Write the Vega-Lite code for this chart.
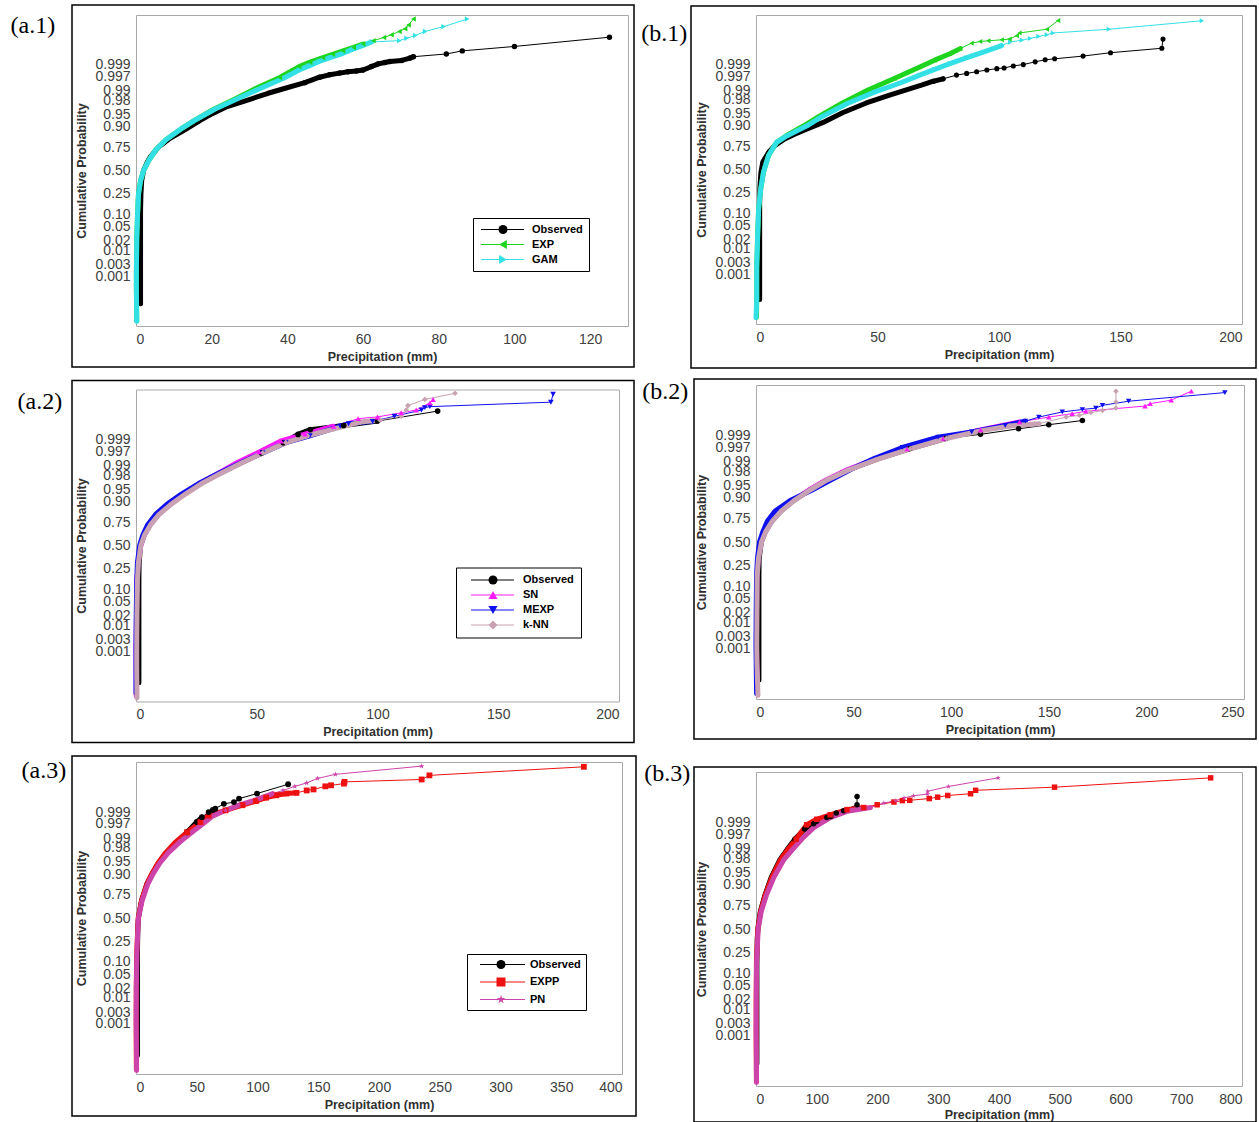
{
"$schema": "https://vega.github.io/schema/vega-lite/v6.json",
"background": "white",
"padding": {"left": 10, "top": 3, "right": 0, "bottom": 0},
"datasets": {
"a1": [
{"s":"Observed","x":1.2,"z":-3.9},{"s":"Observed","x":1.2,"z":-3.0},{"s":"Observed","x":1.2,"z":-2.0},{"s":"Observed","x":1.2,"z":-1.2},{"s":"Observed","x":1.3,"z":-0.7},{"s":"Observed","x":1.5,"z":-0.3},{"s":"Observed","x":2.0,"z":0.0},{"s":"Observed","x":3.0,"z":0.25},{"s":"Observed","x":3.8,"z":0.4},{"s":"Observed","x":6.0,"z":0.69},{"s":"Observed","x":9.0,"z":0.94},{"s":"Observed","x":12.8,"z":1.18},{"s":"Observed","x":17.0,"z":1.47},{"s":"Observed","x":20.3,"z":1.67},{"s":"Observed","x":24.1,"z":1.87},{"s":"Observed","x":29.5,"z":2.06},{"s":"Observed","x":34.9,"z":2.26},{"s":"Observed","x":39.2,"z":2.4},{"s":"Observed","x":44.6,"z":2.57},{"s":"Observed","x":48.5,"z":2.73},{"s":"Observed","x":51.1,"z":2.8},{"s":"Observed","x":53.8,"z":2.85},{"s":"Observed","x":56.0,"z":2.89},{"s":"Observed","x":58.2,"z":2.91},{"s":"Observed","x":60.0,"z":2.94},{"s":"Observed","x":62.2,"z":3.04},{"s":"Observed","x":64.0,"z":3.12},{"s":"Observed","x":65.8,"z":3.16},{"s":"Observed","x":67.1,"z":3.19},{"s":"Observed","x":70.2,"z":3.22},{"s":"Observed","x":72.4,"z":3.29},{"s":"Observed","x":73.3,"z":3.33},{"s":"Observed","x":82.0,"z":3.41},{"s":"Observed","x":86.2,"z":3.5},{"s":"Observed","x":100.0,"z":3.63},{"s":"Observed","x":125.1,"z":3.9},
{"s":"EXP","x":0.2,"z":-4.4},{"s":"EXP","x":0.1,"z":-3.5},{"s":"EXP","x":0.1,"z":-3.0},{"s":"EXP","x":0.2,"z":-2.0},{"s":"EXP","x":0.4,"z":-1.3},{"s":"EXP","x":0.65,"z":-0.7},{"s":"EXP","x":1.2,"z":-0.3},{"s":"EXP","x":2.0,"z":0.0},{"s":"EXP","x":3.4,"z":0.3},{"s":"EXP","x":5.2,"z":0.6},{"s":"EXP","x":7.9,"z":0.9},{"s":"EXP","x":11.7,"z":1.2},{"s":"EXP","x":16.0,"z":1.5},{"s":"EXP","x":20.7,"z":1.8},{"s":"EXP","x":26.3,"z":2.1},{"s":"EXP","x":32.0,"z":2.42},{"s":"EXP","x":38.0,"z":2.72},{"s":"EXP","x":43.1,"z":3.04},{"s":"EXP","x":46.0,"z":3.17},{"s":"EXP","x":49.4,"z":3.3},{"s":"EXP","x":52.0,"z":3.4},{"s":"EXP","x":54.7,"z":3.5},{"s":"EXP","x":57.5,"z":3.6},{"s":"EXP","x":60.0,"z":3.7},{"s":"EXP","x":62.7,"z":3.8},{"s":"EXP","x":65.5,"z":3.89},{"s":"EXP","x":67.5,"z":3.97},{"s":"EXP","x":69.6,"z":4.07},{"s":"EXP","x":71.1,"z":4.15},{"s":"EXP","x":72.0,"z":4.26},{"s":"EXP","x":73.3,"z":4.43},
{"s":"GAM","x":0.2,"z":-4.42},{"s":"GAM","x":0.1,"z":-3.5},{"s":"GAM","x":0.1,"z":-3.0},{"s":"GAM","x":0.2,"z":-2.0},{"s":"GAM","x":0.4,"z":-1.3},{"s":"GAM","x":0.65,"z":-0.7},{"s":"GAM","x":1.2,"z":-0.3},{"s":"GAM","x":2.0,"z":0.0},{"s":"GAM","x":3.4,"z":0.3},{"s":"GAM","x":5.2,"z":0.6},{"s":"GAM","x":7.9,"z":0.9},{"s":"GAM","x":11.7,"z":1.2},{"s":"GAM","x":16.0,"z":1.5},{"s":"GAM","x":20.9,"z":1.8},{"s":"GAM","x":26.8,"z":2.1},{"s":"GAM","x":32.8,"z":2.4},{"s":"GAM","x":39.0,"z":2.7},{"s":"GAM","x":43.1,"z":2.94},{"s":"GAM","x":45.7,"z":3.06},{"s":"GAM","x":48.4,"z":3.19},{"s":"GAM","x":51.5,"z":3.31},{"s":"GAM","x":54.7,"z":3.43},{"s":"GAM","x":57.3,"z":3.55},{"s":"GAM","x":60.0,"z":3.66},{"s":"GAM","x":62.2,"z":3.76},{"s":"GAM","x":69.6,"z":3.8},{"s":"GAM","x":71.5,"z":3.87},{"s":"GAM","x":73.8,"z":3.95},{"s":"GAM","x":76.4,"z":4.07},{"s":"GAM","x":81.3,"z":4.21},{"s":"GAM","x":87.5,"z":4.43}
],
"b1": [
{"s":"Observed","x":1.5,"z":-3.83},{"s":"Observed","x":1.5,"z":-3.0},{"s":"Observed","x":1.5,"z":-2.0},{"s":"Observed","x":1.5,"z":-1.0},{"s":"Observed","x":1.6,"z":-0.55},{"s":"Observed","x":2.0,"z":-0.1},{"s":"Observed","x":2.8,"z":0.22},{"s":"Observed","x":5.2,"z":0.51},{"s":"Observed","x":7.7,"z":0.7},{"s":"Observed","x":11.8,"z":0.9},{"s":"Observed","x":15.9,"z":1.04},{"s":"Observed","x":20.8,"z":1.19},{"s":"Observed","x":27.4,"z":1.38},{"s":"Observed","x":35.6,"z":1.67},{"s":"Observed","x":45.4,"z":1.96},{"s":"Observed","x":55.3,"z":2.2},{"s":"Observed","x":68.4,"z":2.49},{"s":"Observed","x":73.0,"z":2.6},{"s":"Observed","x":77.0,"z":2.67},{"s":"Observed","x":82.5,"z":2.78},{"s":"Observed","x":86.7,"z":2.83},{"s":"Observed","x":90.8,"z":2.88},{"s":"Observed","x":95.0,"z":2.93},{"s":"Observed","x":99.1,"z":2.97},{"s":"Observed","x":102.1,"z":2.99},{"s":"Observed","x":105.9,"z":3.05},{"s":"Observed","x":110.0,"z":3.09},{"s":"Observed","x":114.9,"z":3.17},{"s":"Observed","x":119.0,"z":3.23},{"s":"Observed","x":122.9,"z":3.26},{"s":"Observed","x":134.6,"z":3.34},{"s":"Observed","x":145.9,"z":3.44},{"s":"Observed","x":167.0,"z":3.57},{"s":"Observed","x":167.5,"z":3.84},
{"s":"EXP","x":0.2,"z":-4.36},{"s":"EXP","x":0.3,"z":-3.8},{"s":"EXP","x":0.3,"z":-2.9},{"s":"EXP","x":0.7,"z":-1.9},{"s":"EXP","x":1.1,"z":-1.13},{"s":"EXP","x":2.0,"z":-0.55},{"s":"EXP","x":3.1,"z":-0.07},{"s":"EXP","x":5.2,"z":0.42},{"s":"EXP","x":8.5,"z":0.8},{"s":"EXP","x":12.6,"z":1.0},{"s":"EXP","x":19.5,"z":1.28},{"s":"EXP","x":26.1,"z":1.57},{"s":"EXP","x":35.6,"z":1.96},{"s":"EXP","x":46.3,"z":2.35},{"s":"EXP","x":56.9,"z":2.68},{"s":"EXP","x":67.4,"z":3.02},{"s":"EXP","x":73.5,"z":3.22},{"s":"EXP","x":79.8,"z":3.41},{"s":"EXP","x":84.0,"z":3.56},{"s":"EXP","x":88.7,"z":3.72},{"s":"EXP","x":92.2,"z":3.77},{"s":"EXP","x":95.6,"z":3.79},{"s":"EXP","x":101.1,"z":3.82},{"s":"EXP","x":104.3,"z":3.84},{"s":"EXP","x":107.3,"z":3.94},{"s":"EXP","x":108.4,"z":4.02},{"s":"EXP","x":119.7,"z":4.13},{"s":"EXP","x":124.3,"z":4.39},
{"s":"GAM","x":0.0,"z":-4.36},{"s":"GAM","x":0.3,"z":-3.83},{"s":"GAM","x":0.3,"z":-2.87},{"s":"GAM","x":0.7,"z":-1.9},{"s":"GAM","x":1.1,"z":-1.13},{"s":"GAM","x":2.0,"z":-0.55},{"s":"GAM","x":3.1,"z":-0.07},{"s":"GAM","x":5.2,"z":0.42},{"s":"GAM","x":8.5,"z":0.8},{"s":"GAM","x":12.6,"z":0.99},{"s":"GAM","x":20.8,"z":1.28},{"s":"GAM","x":27.4,"z":1.57},{"s":"GAM","x":38.0,"z":1.96},{"s":"GAM","x":49.5,"z":2.3},{"s":"GAM","x":59.1,"z":2.54},{"s":"GAM","x":67.4,"z":2.78},{"s":"GAM","x":73.5,"z":2.95},{"s":"GAM","x":79.8,"z":3.12},{"s":"GAM","x":86.5,"z":3.29},{"s":"GAM","x":93.5,"z":3.46},{"s":"GAM","x":101.1,"z":3.65},{"s":"GAM","x":104.6,"z":3.75},{"s":"GAM","x":109.4,"z":3.81},{"s":"GAM","x":112.8,"z":3.86},{"s":"GAM","x":116.3,"z":3.92},{"s":"GAM","x":119.7,"z":3.97},{"s":"GAM","x":122.2,"z":4.02},{"s":"GAM","x":145.2,"z":4.13},{"s":"GAM","x":183.5,"z":4.38}
],
"a2": [
{"s":"Observed","x":1.2,"z":-4.0},{"s":"Observed","x":1.2,"z":-3.0},{"s":"Observed","x":1.2,"z":-2.0},{"s":"Observed","x":1.2,"z":-1.0},{"s":"Observed","x":1.3,"z":-0.5},{"s":"Observed","x":1.9,"z":0.0},{"s":"Observed","x":3.3,"z":0.3},{"s":"Observed","x":5.6,"z":0.6},{"s":"Observed","x":9.0,"z":0.9},{"s":"Observed","x":13.8,"z":1.2},{"s":"Observed","x":19.7,"z":1.5},{"s":"Observed","x":26.5,"z":1.8},{"s":"Observed","x":34.5,"z":2.1},{"s":"Observed","x":43.0,"z":2.4},{"s":"Observed","x":52.0,"z":2.7},{"s":"Observed","x":61.0,"z":3.0},{"s":"Observed","x":67.1,"z":3.24},{"s":"Observed","x":72.2,"z":3.38},{"s":"Observed","x":86.0,"z":3.5},{"s":"Observed","x":100.0,"z":3.63},{"s":"Observed","x":124.9,"z":3.92},
{"s":"SN","x":0.1,"z":-4.4},{"s":"SN","x":0.0,"z":-3.0},{"s":"SN","x":0.2,"z":-2.0},{"s":"SN","x":0.4,"z":-1.0},{"s":"SN","x":0.9,"z":-0.5},{"s":"SN","x":2.0,"z":0.0},{"s":"SN","x":3.4,"z":0.3},{"s":"SN","x":5.8,"z":0.6},{"s":"SN","x":9.2,"z":0.9},{"s":"SN","x":13.8,"z":1.2},{"s":"SN","x":19.5,"z":1.5},{"s":"SN","x":26.0,"z":1.8},{"s":"SN","x":34.0,"z":2.1},{"s":"SN","x":42.0,"z":2.42},{"s":"SN","x":51.0,"z":2.73},{"s":"SN","x":60.0,"z":3.05},{"s":"SN","x":70.0,"z":3.25},{"s":"SN","x":81.8,"z":3.48},{"s":"SN","x":92.0,"z":3.7},{"s":"SN","x":100.0,"z":3.75},{"s":"SN","x":109.8,"z":3.87},{"s":"SN","x":116.0,"z":3.95},{"s":"SN","x":121.7,"z":4.16},{"s":"SN","x":123.0,"z":4.26},
{"s":"MEXP","x":0.0,"z":-4.3},{"s":"MEXP","x":0.0,"z":-3.0},{"s":"MEXP","x":0.1,"z":-2.0},{"s":"MEXP","x":0.3,"z":-1.0},{"s":"MEXP","x":0.6,"z":-0.5},{"s":"MEXP","x":1.5,"z":0.0},{"s":"MEXP","x":2.8,"z":0.3},{"s":"MEXP","x":4.8,"z":0.6},{"s":"MEXP","x":8.0,"z":0.9},{"s":"MEXP","x":12.8,"z":1.2},{"s":"MEXP","x":18.8,"z":1.5},{"s":"MEXP","x":25.8,"z":1.8},{"s":"MEXP","x":34.0,"z":2.1},{"s":"MEXP","x":43.0,"z":2.4},{"s":"MEXP","x":52.5,"z":2.7},{"s":"MEXP","x":62.0,"z":3.0},{"s":"MEXP","x":72.0,"z":3.2},{"s":"MEXP","x":84.6,"z":3.48},{"s":"MEXP","x":88.0,"z":3.55},{"s":"MEXP","x":98.0,"z":3.62},{"s":"MEXP","x":107.0,"z":3.77},{"s":"MEXP","x":118.2,"z":3.95},{"s":"MEXP","x":119.6,"z":4.02},{"s":"MEXP","x":121.7,"z":4.05},{"s":"MEXP","x":171.8,"z":4.18},{"s":"MEXP","x":172.7,"z":4.41},
{"s":"k-NN","x":0.4,"z":-4.45},{"s":"k-NN","x":0.3,"z":-3.5},{"s":"k-NN","x":0.3,"z":-3.0},{"s":"k-NN","x":0.4,"z":-2.0},{"s":"k-NN","x":0.6,"z":-1.0},{"s":"k-NN","x":1.0,"z":-0.5},{"s":"k-NN","x":2.0,"z":0.0},{"s":"k-NN","x":3.5,"z":0.3},{"s":"k-NN","x":6.0,"z":0.6},{"s":"k-NN","x":9.5,"z":0.9},{"s":"k-NN","x":14.5,"z":1.2},{"s":"k-NN","x":20.5,"z":1.5},{"s":"k-NN","x":27.0,"z":1.8},{"s":"k-NN","x":35.0,"z":2.1},{"s":"k-NN","x":43.5,"z":2.4},{"s":"k-NN","x":52.5,"z":2.7},{"s":"k-NN","x":62.0,"z":3.0},{"s":"k-NN","x":71.0,"z":3.2},{"s":"k-NN","x":82.0,"z":3.4},{"s":"k-NN","x":93.0,"z":3.6},{"s":"k-NN","x":101.0,"z":3.66},{"s":"k-NN","x":109.8,"z":3.77},{"s":"k-NN","x":111.9,"z":3.95},{"s":"k-NN","x":112.6,"z":4.08},{"s":"k-NN","x":119.6,"z":4.26},{"s":"k-NN","x":132.1,"z":4.44}
],
"b2": [
{"s":"Observed","x":1.5,"z":-4.0},{"s":"Observed","x":1.5,"z":-3.0},{"s":"Observed","x":1.5,"z":-2.0},{"s":"Observed","x":1.5,"z":-1.0},{"s":"Observed","x":1.6,"z":-0.5},{"s":"Observed","x":2.7,"z":0.0},{"s":"Observed","x":4.8,"z":0.3},{"s":"Observed","x":8.0,"z":0.6},{"s":"Observed","x":12.8,"z":0.9},{"s":"Observed","x":19.2,"z":1.2},{"s":"Observed","x":27.2,"z":1.5},{"s":"Observed","x":36.3,"z":1.8},{"s":"Observed","x":47.6,"z":2.1},{"s":"Observed","x":62.0,"z":2.4},{"s":"Observed","x":78.5,"z":2.7},{"s":"Observed","x":97.0,"z":3.0},{"s":"Observed","x":115.0,"z":3.12},{"s":"Observed","x":134.5,"z":3.28},{"s":"Observed","x":150.0,"z":3.4},{"s":"Observed","x":167.2,"z":3.52},
{"s":"SN","x":0.8,"z":-4.4},{"s":"SN","x":0.2,"z":-3.0},{"s":"SN","x":0.3,"z":-2.0},{"s":"SN","x":0.5,"z":-1.0},{"s":"SN","x":1.1,"z":-0.5},{"s":"SN","x":2.7,"z":0.0},{"s":"SN","x":4.8,"z":0.3},{"s":"SN","x":8.0,"z":0.6},{"s":"SN","x":12.8,"z":0.9},{"s":"SN","x":19.0,"z":1.2},{"s":"SN","x":27.0,"z":1.5},{"s":"SN","x":36.0,"z":1.8},{"s":"SN","x":47.0,"z":2.1},{"s":"SN","x":61.0,"z":2.4},{"s":"SN","x":77.5,"z":2.7},{"s":"SN","x":96.0,"z":3.0},{"s":"SN","x":115.0,"z":3.25},{"s":"SN","x":135.0,"z":3.48},{"s":"SN","x":150.0,"z":3.62},{"s":"SN","x":162.0,"z":3.72},{"s":"SN","x":168.9,"z":3.79},{"s":"SN","x":199.3,"z":3.94},{"s":"SN","x":201.9,"z":4.01},{"s":"SN","x":212.7,"z":4.11},{"s":"SN","x":223.0,"z":4.37},
{"s":"MEXP","x":0.3,"z":-4.4},{"s":"MEXP","x":0.0,"z":-3.0},{"s":"MEXP","x":0.1,"z":-2.0},{"s":"MEXP","x":0.3,"z":-1.0},{"s":"MEXP","x":0.7,"z":-0.5},{"s":"MEXP","x":1.8,"z":0.0},{"s":"MEXP","x":3.5,"z":0.3},{"s":"MEXP","x":5.8,"z":0.6},{"s":"MEXP","x":9.8,"z":0.9},{"s":"MEXP","x":17.5,"z":1.2},{"s":"MEXP","x":28.5,"z":1.5},{"s":"MEXP","x":38.5,"z":1.8},{"s":"MEXP","x":48.5,"z":2.1},{"s":"MEXP","x":60.5,"z":2.42},{"s":"MEXP","x":75.0,"z":2.74},{"s":"MEXP","x":93.3,"z":3.04},{"s":"MEXP","x":110.5,"z":3.19},{"s":"MEXP","x":127.7,"z":3.38},{"s":"MEXP","x":138.0,"z":3.5},{"s":"MEXP","x":144.9,"z":3.62},{"s":"MEXP","x":156.9,"z":3.77},{"s":"MEXP","x":167.2,"z":3.84},{"s":"MEXP","x":174.1,"z":3.88},{"s":"MEXP","x":177.5,"z":3.96},{"s":"MEXP","x":190.9,"z":4.08},{"s":"MEXP","x":240.2,"z":4.33},
{"s":"k-NN","x":1.0,"z":-4.45},{"s":"k-NN","x":0.5,"z":-3.5},{"s":"k-NN","x":0.4,"z":-3.0},{"s":"k-NN","x":0.5,"z":-2.0},{"s":"k-NN","x":0.6,"z":-1.0},{"s":"k-NN","x":1.2,"z":-0.5},{"s":"k-NN","x":2.8,"z":0.0},{"s":"k-NN","x":5.0,"z":0.3},{"s":"k-NN","x":8.3,"z":0.6},{"s":"k-NN","x":13.0,"z":0.9},{"s":"k-NN","x":19.5,"z":1.2},{"s":"k-NN","x":27.5,"z":1.5},{"s":"k-NN","x":36.5,"z":1.8},{"s":"k-NN","x":48.0,"z":2.1},{"s":"k-NN","x":62.5,"z":2.4},{"s":"k-NN","x":79.0,"z":2.7},{"s":"k-NN","x":97.5,"z":3.0},{"s":"k-NN","x":115.0,"z":3.22},{"s":"k-NN","x":130.0,"z":3.36},{"s":"k-NN","x":144.9,"z":3.43},{"s":"k-NN","x":158.9,"z":3.62},{"s":"k-NN","x":165.6,"z":3.67},{"s":"k-NN","x":171.6,"z":3.75},{"s":"k-NN","x":177.5,"z":3.81},{"s":"k-NN","x":184.4,"z":3.88},{"s":"k-NN","x":184.4,"z":4.06},{"s":"k-NN","x":184.4,"z":4.37}
],
"a3": [
{"s":"Observed","x":1.2,"z":-4.0},{"s":"Observed","x":1.2,"z":-3.0},{"s":"Observed","x":1.2,"z":-2.0},{"s":"Observed","x":1.2,"z":-1.0},{"s":"Observed","x":1.5,"z":-0.3},{"s":"Observed","x":2.0,"z":0.0},{"s":"Observed","x":4.5,"z":0.5},{"s":"Observed","x":9.0,"z":1.0},{"s":"Observed","x":13.5,"z":1.3},{"s":"Observed","x":18.5,"z":1.6},{"s":"Observed","x":25.0,"z":1.9},{"s":"Observed","x":33.0,"z":2.2},{"s":"Observed","x":42.0,"z":2.5},{"s":"Observed","x":50.0,"z":2.8},{"s":"Observed","x":54.2,"z":2.94},{"s":"Observed","x":59.8,"z":3.09},{"s":"Observed","x":63.2,"z":3.15},{"s":"Observed","x":65.3,"z":3.19},{"s":"Observed","x":72.3,"z":3.33},{"s":"Observed","x":80.6,"z":3.38},{"s":"Observed","x":84.8,"z":3.48},{"s":"Observed","x":99.6,"z":3.63},{"s":"Observed","x":125.2,"z":3.9},
{"s":"EXPP","x":0.3,"z":-4.42},{"s":"EXPP","x":0.1,"z":-3.0},{"s":"EXPP","x":0.2,"z":-2.0},{"s":"EXPP","x":0.6,"z":-1.0},{"s":"EXPP","x":1.8,"z":0.0},{"s":"EXPP","x":4.5,"z":0.5},{"s":"EXPP","x":9.0,"z":1.0},{"s":"EXPP","x":13.2,"z":1.3},{"s":"EXPP","x":18.0,"z":1.6},{"s":"EXPP","x":24.3,"z":1.9},{"s":"EXPP","x":32.0,"z":2.2},{"s":"EXPP","x":42.0,"z":2.5},{"s":"EXPP","x":53.0,"z":2.8},{"s":"EXPP","x":59.8,"z":2.99},{"s":"EXPP","x":73.7,"z":3.14},{"s":"EXPP","x":87.6,"z":3.29},{"s":"EXPP","x":98.7,"z":3.41},{"s":"EXPP","x":107.1,"z":3.51},{"s":"EXPP","x":115.4,"z":3.58},{"s":"EXPP","x":123.8,"z":3.63},{"s":"EXPP","x":132.1,"z":3.65},{"s":"EXPP","x":140.5,"z":3.72},{"s":"EXPP","x":146.1,"z":3.75},{"s":"EXPP","x":155.8,"z":3.84},{"s":"EXPP","x":160.5,"z":3.87},{"s":"EXPP","x":171.1,"z":3.92},{"s":"EXPP","x":171.6,"z":3.97},{"s":"EXPP","x":235.1,"z":4.04},{"s":"EXPP","x":241.5,"z":4.16},{"s":"EXPP","x":368.6,"z":4.41},
{"s":"PN","x":0.5,"z":-4.45},{"s":"PN","x":0.2,"z":-3.0},{"s":"PN","x":0.3,"z":-2.0},{"s":"PN","x":0.7,"z":-1.0},{"s":"PN","x":2.0,"z":0.0},{"s":"PN","x":5.0,"z":0.5},{"s":"PN","x":9.8,"z":1.0},{"s":"PN","x":14.3,"z":1.3},{"s":"PN","x":19.5,"z":1.6},{"s":"PN","x":26.5,"z":1.9},{"s":"PN","x":35.5,"z":2.2},{"s":"PN","x":46.0,"z":2.5},{"s":"PN","x":57.0,"z":2.8},{"s":"PN","x":63.0,"z":2.97},{"s":"PN","x":73.7,"z":3.14},{"s":"PN","x":84.8,"z":3.29},{"s":"PN","x":101.5,"z":3.48},{"s":"PN","x":112.6,"z":3.63},{"s":"PN","x":121.0,"z":3.72},{"s":"PN","x":130.7,"z":3.84},{"s":"PN","x":140.5,"z":3.94},{"s":"PN","x":149.4,"z":4.07},{"s":"PN","x":164.1,"z":4.19},{"s":"PN","x":235.1,"z":4.43}
],
"b3": [
{"s":"Observed","x":1.5,"z":-3.9},{"s":"Observed","x":1.5,"z":-3.0},{"s":"Observed","x":1.5,"z":-2.0},{"s":"Observed","x":1.5,"z":-1.0},{"s":"Observed","x":2.0,"z":-0.3},{"s":"Observed","x":3.0,"z":0.0},{"s":"Observed","x":7.0,"z":0.5},{"s":"Observed","x":15.0,"z":1.0},{"s":"Observed","x":25.0,"z":1.5},{"s":"Observed","x":39.0,"z":2.0},{"s":"Observed","x":51.0,"z":2.3},{"s":"Observed","x":64.0,"z":2.6},{"s":"Observed","x":80.0,"z":2.9},{"s":"Observed","x":95.0,"z":3.05},{"s":"Observed","x":100.0,"z":3.12},{"s":"Observed","x":116.6,"z":3.23},{"s":"Observed","x":123.0,"z":3.26},{"s":"Observed","x":132.0,"z":3.36},{"s":"Observed","x":144.2,"z":3.43},{"s":"Observed","x":166.3,"z":3.6},{"s":"Observed","x":166.3,"z":3.84},
{"s":"EXPP","x":0.7,"z":-4.42},{"s":"EXPP","x":0.2,"z":-3.0},{"s":"EXPP","x":0.3,"z":-2.0},{"s":"EXPP","x":0.7,"z":-1.0},{"s":"EXPP","x":3.0,"z":0.0},{"s":"EXPP","x":7.5,"z":0.5},{"s":"EXPP","x":15.5,"z":1.0},{"s":"EXPP","x":26.0,"z":1.5},{"s":"EXPP","x":40.0,"z":2.0},{"s":"EXPP","x":52.0,"z":2.3},{"s":"EXPP","x":66.0,"z":2.6},{"s":"EXPP","x":83.4,"z":3.02},{"s":"EXPP","x":100.0,"z":3.18},{"s":"EXPP","x":122.1,"z":3.31},{"s":"EXPP","x":149.8,"z":3.46},{"s":"EXPP","x":177.4,"z":3.52},{"s":"EXPP","x":199.5,"z":3.6},{"s":"EXPP","x":227.1,"z":3.68},{"s":"EXPP","x":241.0,"z":3.72},{"s":"EXPP","x":253.1,"z":3.73},{"s":"EXPP","x":285.2,"z":3.78},{"s":"EXPP","x":299.0,"z":3.82},{"s":"EXPP","x":315.6,"z":3.87},{"s":"EXPP","x":353.2,"z":3.92},{"s":"EXPP","x":361.5,"z":4.02},{"s":"EXPP","x":491.4,"z":4.11},{"s":"EXPP","x":748.4,"z":4.38},
{"s":"PN","x":0.9,"z":-4.45},{"s":"PN","x":0.3,"z":-3.0},{"s":"PN","x":0.4,"z":-2.0},{"s":"PN","x":0.9,"z":-1.0},{"s":"PN","x":3.6,"z":0.0},{"s":"PN","x":8.5,"z":0.5},{"s":"PN","x":17.5,"z":1.0},{"s":"PN","x":29.5,"z":1.5},{"s":"PN","x":45.5,"z":2.0},{"s":"PN","x":60.0,"z":2.3},{"s":"PN","x":75.0,"z":2.6},{"s":"PN","x":94.5,"z":2.93},{"s":"PN","x":122.1,"z":3.23},{"s":"PN","x":149.8,"z":3.41},{"s":"PN","x":188.4,"z":3.52},{"s":"PN","x":210.5,"z":3.65},{"s":"PN","x":229.9,"z":3.72},{"s":"PN","x":243.7,"z":3.8},{"s":"PN","x":259.2,"z":3.86},{"s":"PN","x":282.4,"z":3.91},{"s":"PN","x":282.4,"z":3.99},{"s":"PN","x":316.7,"z":4.13},{"s":"PN","x":398.5,"z":4.38}
]
},
"hconcat": [
{
"concat": [
{
"width": 492, "height": 311,
"title": {"text": "(a.1)", "orient": "left", "anchor": "end", "angle": 0, "align": "left", "baseline": "top", "frame": "bounds", "offset": 16, "dy": 10, "font": "Liberation Serif", "fontSize": 24, "fontWeight": "normal", "color": "black"},
"layer": [
{"data": {"values": [{"lo": 0, "hi": 1}]}, "mark": {"type": "rect", "fill": "transparent", "stroke": "black", "strokeWidth": 1.5},
 "encoding": {"x": {"field": "lo", "type": "quantitative", "scale": {"domain": [0, 1], "range": [-64, 498], "nice": false, "zero": false}, "axis": null}, "x2": {"field": "hi"},
 "y": {"field": "lo", "type": "quantitative", "scale": {"domain": [0, 1], "range": [352, -10], "nice": false, "zero": false}, "axis": null}, "y2": {"field": "hi"}}},
{"data": {"name": "a1"},
 "encoding": {
  "x": {"field": "x", "type": "quantitative", "scale": {"domain": [0, 130], "nice": false, "zero": false}, "axis": {"orient": "bottom", "values": [0,20,40,60,80,100,120], "title": "Precipitation (mm)"}},
  "y": {"field": "z", "type": "quantitative", "scale": {"domain": [-4.55, 4.55], "nice": false, "zero": false}, "axis": {"orient": "left", "values": [-3.0902,-2.7478,-2.3263,-2.0537,-1.6449,-1.2816,-0.6745,0,0.6745,1.2816,1.6449,2.0537,2.3263,2.7478,3.0902], "labelExpr": "(cumulativeNormal(datum.value) > 0.995 || cumulativeNormal(datum.value) < 0.005) ? format(cumulativeNormal(datum.value), '.3f') : format(cumulativeNormal(datum.value), '.2f')", "title": "Cumulative Probability", "titlePadding": 6}},
  "order": {"field": "z", "type": "quantitative"}
 },
 "layer": [
  {"mark": {"type": "line", "strokeWidth": 1},
   "encoding": {"color": {"field": "s", "type": "nominal", "scale": {"domain": ["Observed","EXP","GAM"], "range": ["#000000","#1ed41e","#33e0e6"]},
    "legend": {"orient": "none", "legendX": 337, "legendY": 203, "title": null, "padding": 6, "strokeColor": "black", "fillColor": "white", "cornerRadius": 0, "rowPadding": 3, "symbolSize": 81, "symbolType": "M-0.78,0H8.78", "symbolStrokeWidth": 1, "labelOffset": 42, "labelFont": "Liberation Sans", "labelFontSize": 11, "labelFontWeight": "bold", "labelColor": "black"}}}},
  {"transform": [{"filter": "datum.s == 'Observed' ? datum.z <= 3.33 : datum.z <= 3.78"}], "mark": {"type": "line", "strokeWidth": 5, "strokeCap": "round", "strokeJoin": "round"},
   "encoding": {"color": {"field": "s", "type": "nominal", "scale": {"domain": ["Observed","EXP","GAM"], "range": ["#000000","#1ed41e","#33e0e6"]},
    "legend": {"orient": "none", "legendX": 337, "legendY": 203, "title": null, "padding": 6, "strokeColor": "black", "fillColor": "white", "cornerRadius": 0, "rowPadding": 3, "symbolSize": 81, "symbolType": "M-0.78,0H8.78", "symbolStrokeWidth": 1, "labelOffset": 42, "labelFont": "Liberation Sans", "labelFontSize": 11, "labelFontWeight": "bold", "labelColor": "black"}}}},
  {"transform": [{"filter": "datum.z >= 2.5"}], "mark": {"type": "point", "filled": true, "opacity": 1, "size": 30},
   "encoding": {
    "fill": {"field": "s", "type": "nominal", "scale": {"domain": ["EXP","Observed","GAM"], "range": ["#1ed41e","#000000","#33e0e6"]},
     "legend": {"orient": "none", "legendX": 355.5, "legendY": 203, "values": ["Observed","EXP","GAM"], "title": null, "padding": 6, "rowPadding": 3, "symbolSize": 81, "symbolStrokeWidth": 0, "symbolOpacity": 1, "labelOffset": 42, "labelFont": "Liberation Sans", "labelFontSize": 11, "labelFontWeight": "bold", "labelOpacity": 0}},
    "shape": {"field": "s", "type": "nominal", "scale": {"domain": ["EXP","Observed","GAM"], "range": ["triangle-left","circle","triangle-right"]},
     "legend": {"orient": "none", "legendX": 355.5, "legendY": 203, "values": ["Observed","EXP","GAM"], "title": null, "padding": 6, "rowPadding": 3, "symbolSize": 81, "symbolStrokeWidth": 0, "symbolOpacity": 1, "labelOffset": 42, "labelFont": "Liberation Sans", "labelFontSize": 11, "labelFontWeight": "bold", "labelOpacity": 0}}}}
 ]}
],
"resolve": {"scale": {"x": "independent", "y": "independent"}}
},
{
"width": 483, "height": 312,
"title": {"text": "(a.2)", "orient": "left", "anchor": "end", "angle": 0, "align": "left", "baseline": "top", "frame": "bounds", "offset": 9, "dy": 10, "font": "Liberation Serif", "fontSize": 24, "fontWeight": "normal", "color": "black"},
"layer": [
{"data": {"values": [{"lo": 0, "hi": 1}]}, "mark": {"type": "rect", "fill": "transparent", "stroke": "black", "strokeWidth": 1.5},
 "encoding": {"x": {"field": "lo", "type": "quantitative", "scale": {"domain": [0, 1], "range": [-64, 498], "nice": false, "zero": false}, "axis": null}, "x2": {"field": "hi"},
 "y": {"field": "lo", "type": "quantitative", "scale": {"domain": [0, 1], "range": [353, -9], "nice": false, "zero": false}, "axis": null}, "y2": {"field": "hi"}}},
{"data": {"name": "a2"},
 "encoding": {
  "x": {"field": "x", "type": "quantitative", "scale": {"domain": [0, 200], "nice": false, "zero": false}, "axis": {"orient": "bottom", "values": [0,50,100,150,200], "title": "Precipitation (mm)"}},
  "y": {"field": "z", "type": "quantitative", "scale": {"domain": [-4.55, 4.55], "nice": false, "zero": false}, "axis": {"orient": "left", "values": [-3.0902,-2.7478,-2.3263,-2.0537,-1.6449,-1.2816,-0.6745,0,0.6745,1.2816,1.6449,2.0537,2.3263,2.7478,3.0902], "labelExpr": "(cumulativeNormal(datum.value) > 0.995 || cumulativeNormal(datum.value) < 0.005) ? format(cumulativeNormal(datum.value), '.3f') : format(cumulativeNormal(datum.value), '.2f')", "title": "Cumulative Probability", "titlePadding": 6}},
  "order": {"field": "z", "type": "quantitative"}
 },
 "layer": [
  {"mark": {"type": "line", "strokeWidth": 1},
   "encoding": {"color": {"field": "s", "type": "nominal", "scale": {"domain": ["Observed","SN","MEXP","k-NN"], "range": ["#000000","#ff1aff","#1010ee","#c8a2b2"]},
    "legend": {"orient": "none", "legendX": 320, "legendY": 178, "title": null, "padding": 7, "strokeColor": "black", "fillColor": "white", "cornerRadius": 0, "rowPadding": 3, "symbolSize": 81, "symbolType": "M0.56,0H10.1", "symbolStrokeWidth": 1, "labelOffset": 49, "labelFont": "Liberation Sans", "labelFontSize": 11, "labelFontWeight": "bold", "labelColor": "black"}}}},
  {"transform": [{"filter": "datum.z <= 3.66"}], "mark": {"type": "line", "strokeWidth": 5, "strokeCap": "round", "strokeJoin": "round"},
   "encoding": {"color": {"field": "s", "type": "nominal", "scale": {"domain": ["Observed","SN","MEXP","k-NN"], "range": ["#000000","#ff1aff","#1010ee","#c8a2b2"]},
    "legend": {"orient": "none", "legendX": 320, "legendY": 178, "title": null, "padding": 7, "strokeColor": "black", "fillColor": "white", "cornerRadius": 0, "rowPadding": 3, "symbolSize": 81, "symbolType": "M0.56,0H10.1", "symbolStrokeWidth": 1, "labelOffset": 49, "labelFont": "Liberation Sans", "labelFontSize": 11, "labelFontWeight": "bold", "labelColor": "black"}}}},
  {"transform": [{"filter": "datum.z >= 2.5"}], "mark": {"type": "point", "filled": true, "opacity": 1, "size": 32},
   "encoding": {
    "fill": {"field": "s", "type": "nominal", "scale": {"domain": ["SN","Observed","MEXP","k-NN"], "range": ["#ff1aff","#000000","#1010ee","#c8a2b2"]},
     "legend": {"orient": "none", "legendX": 344.5, "legendY": 178, "values": ["Observed","SN","MEXP","k-NN"], "title": null, "padding": 7, "rowPadding": 3, "symbolSize": 81, "symbolStrokeWidth": 0, "symbolOpacity": 1, "labelOffset": 49, "labelFont": "Liberation Sans", "labelFontSize": 11, "labelFontWeight": "bold", "labelOpacity": 0}},
    "shape": {"field": "s", "type": "nominal", "scale": {"domain": ["SN","Observed","MEXP","k-NN"], "range": ["triangle-up","circle","triangle-down","diamond"]},
     "legend": {"orient": "none", "legendX": 344.5, "legendY": 178, "values": ["Observed","SN","MEXP","k-NN"], "title": null, "padding": 7, "rowPadding": 3, "symbolSize": 81, "symbolStrokeWidth": 0, "symbolOpacity": 1, "labelOffset": 49, "labelFont": "Liberation Sans", "labelFontSize": 11, "labelFontWeight": "bold", "labelOpacity": 0}}}}
 ]}
],
"resolve": {"scale": {"x": "independent", "y": "independent"}}
},
{
"width": 486, "height": 312,
"title": {"text": "(a.3)", "orient": "left", "anchor": "end", "angle": 0, "align": "left", "baseline": "top", "frame": "bounds", "offset": 5, "dy": 4, "font": "Liberation Serif", "fontSize": 24, "fontWeight": "normal", "color": "black"},
"layer": [
{"data": {"values": [{"lo": 0, "hi": 1}]}, "mark": {"type": "rect", "fill": "transparent", "stroke": "black", "strokeWidth": 1.5},
 "encoding": {"x": {"field": "lo", "type": "quantitative", "scale": {"domain": [0, 1], "range": [-64, 500], "nice": false, "zero": false}, "axis": null}, "x2": {"field": "hi"},
 "y": {"field": "lo", "type": "quantitative", "scale": {"domain": [0, 1], "range": [354, -6], "nice": false, "zero": false}, "axis": null}, "y2": {"field": "hi"}}},
{"data": {"name": "a3"},
 "encoding": {
  "x": {"field": "x", "type": "quantitative", "scale": {"domain": [0, 400], "nice": false, "zero": false}, "axis": {"orient": "bottom", "values": [0,50,100,150,200,250,300,350,400], "title": "Precipitation (mm)"}},
  "y": {"field": "z", "type": "quantitative", "scale": {"domain": [-4.55, 4.55], "nice": false, "zero": false}, "axis": {"orient": "left", "values": [-3.0902,-2.7478,-2.3263,-2.0537,-1.6449,-1.2816,-0.6745,0,0.6745,1.2816,1.6449,2.0537,2.3263,2.7478,3.0902], "labelExpr": "(cumulativeNormal(datum.value) > 0.995 || cumulativeNormal(datum.value) < 0.005) ? format(cumulativeNormal(datum.value), '.3f') : format(cumulativeNormal(datum.value), '.2f')", "title": "Cumulative Probability", "titlePadding": 6}},
  "order": {"field": "z", "type": "quantitative"}
 },
 "layer": [
  {"mark": {"type": "line", "strokeWidth": 1},
   "encoding": {"color": {"field": "s", "type": "nominal", "scale": {"domain": ["Observed","EXPP","PN"], "range": ["#000000","#ee1111","#cc44aa"]},
    "legend": {"orient": "none", "legendX": 331, "legendY": 192, "title": null, "padding": 5, "strokeColor": "black", "fillColor": "white", "cornerRadius": 0, "rowPadding": 5.5, "symbolSize": 81, "symbolType": "M0.56,0H10.56", "symbolStrokeWidth": 1, "labelOffset": 47, "labelFont": "Liberation Sans", "labelFontSize": 11, "labelFontWeight": "bold", "labelColor": "black"}}}},
  {"transform": [{"filter": "datum.s == 'Observed' ? datum.z <= 3.0 : datum.z <= 3.66"}], "mark": {"type": "line", "strokeWidth": 5, "strokeCap": "round", "strokeJoin": "round"},
   "encoding": {"color": {"field": "s", "type": "nominal", "scale": {"domain": ["Observed","EXPP","PN"], "range": ["#000000","#ee1111","#cc44aa"]},
    "legend": {"orient": "none", "legendX": 331, "legendY": 192, "title": null, "padding": 5, "strokeColor": "black", "fillColor": "white", "cornerRadius": 0, "rowPadding": 5.5, "symbolSize": 81, "symbolType": "M0.56,0H10.56", "symbolStrokeWidth": 1, "labelOffset": 47, "labelFont": "Liberation Sans", "labelFontSize": 11, "labelFontWeight": "bold", "labelColor": "black"}}}},
  {"transform": [{"filter": "datum.z >= 2.5"}], "mark": {"type": "point", "filled": true, "opacity": 1, "size": 34},
   "encoding": {
    "fill": {"field": "s", "type": "nominal", "scale": {"domain": ["EXPP","Observed","PN"], "range": ["#ee1111","#000000","#cc44aa"]},
     "legend": {"orient": "none", "legendX": 354.5, "legendY": 192, "values": ["Observed","EXPP","PN"], "title": null, "padding": 5, "rowPadding": 5.5, "symbolSize": 81, "symbolStrokeWidth": 0, "symbolOpacity": 1, "labelOffset": 47, "labelFont": "Liberation Sans", "labelFontSize": 11, "labelFontWeight": "bold", "labelOpacity": 0}},
    "shape": {"field": "s", "type": "nominal", "scale": {"domain": ["EXPP","Observed","PN"], "range": ["square","circle","M0,-1L0.2245,-0.309L0.951,-0.309L0.363,0.118L0.588,0.809L0,0.382L-0.588,0.809L-0.363,0.118L-0.951,-0.309L-0.2245,-0.309Z"]},
     "legend": {"orient": "none", "legendX": 354.5, "legendY": 192, "values": ["Observed","EXPP","PN"], "title": null, "padding": 5, "rowPadding": 5.5, "symbolSize": 81, "symbolStrokeWidth": 0, "symbolOpacity": 1, "labelOffset": 47, "labelFont": "Liberation Sans", "labelFontSize": 11, "labelFontWeight": "bold", "labelOpacity": 0}}}}
 ]}
],
"resolve": {"scale": {"x": "independent", "y": "independent"}}
}
],
"columns": 1, "spacing": 9.5, "align": "none",
"resolve": {"scale": {"x": "independent", "y": "independent", "color": "independent", "fill": "independent", "shape": "independent"}, "legend": {"color": "independent", "fill": "independent", "shape": "independent"}}
},
{
"concat": [
{
"concat": [
{
"width": 486, "height": 309,
"title": {"text": "(b.1)", "orient": "left", "anchor": "end", "angle": 0, "align": "left", "baseline": "top", "frame": "bounds", "offset": 3, "dy": 17, "font": "Liberation Serif", "fontSize": 24, "fontWeight": "normal", "color": "black"},
"layer": [
{"data": {"values": [{"lo": 0, "hi": 1}]}, "mark": {"type": "rect", "fill": "transparent", "stroke": "black", "strokeWidth": 1.5},
 "encoding": {"x": {"field": "lo", "type": "quantitative", "scale": {"domain": [0, 1], "range": [-65, 500], "nice": false, "zero": false}, "axis": null}, "x2": {"field": "hi"},
 "y": {"field": "lo", "type": "quantitative", "scale": {"domain": [0, 1], "range": [353, -9], "nice": false, "zero": false}, "axis": null}, "y2": {"field": "hi"}}},
{"data": {"name": "b1"},
 "encoding": {
  "x": {"field": "x", "type": "quantitative", "scale": {"domain": [0, 200], "nice": false, "zero": false}, "axis": {"orient": "bottom", "values": [0,50,100,150,200], "title": "Precipitation (mm)"}},
  "y": {"field": "z", "type": "quantitative", "scale": {"domain": [-4.55, 4.55], "nice": false, "zero": false}, "axis": {"orient": "left", "values": [-3.0902,-2.7478,-2.3263,-2.0537,-1.6449,-1.2816,-0.6745,0,0.6745,1.2816,1.6449,2.0537,2.3263,2.7478,3.0902], "labelExpr": "(cumulativeNormal(datum.value) > 0.995 || cumulativeNormal(datum.value) < 0.005) ? format(cumulativeNormal(datum.value), '.3f') : format(cumulativeNormal(datum.value), '.2f')", "title": "Cumulative Probability", "titlePadding": 6}},
  "color": {"field": "s", "type": "nominal", "scale": {"domain": ["Observed","EXP","GAM"], "range": ["#000000","#1ed41e","#33e0e6"]}, "legend": null},
  "order": {"field": "z", "type": "quantitative"}
 },
 "layer": [
  {"mark": {"type": "line", "strokeWidth": 1}},
  {"transform": [{"filter": "datum.s == 'Observed' ? datum.z <= 2.7 : datum.z <= 3.68"}], "mark": {"type": "line", "strokeWidth": 5, "strokeCap": "round", "strokeJoin": "round"}},
  {"transform": [{"filter": "datum.z >= 2.5"}], "mark": {"type": "point", "filled": true, "opacity": 1, "size": 26},
   "encoding": {"shape": {"field": "s", "type": "nominal", "scale": {"domain": ["Observed","EXP","GAM"], "range": ["circle","triangle-left","triangle-right"]}, "legend": null}}}
 ]}
],
"resolve": {"scale": {"x": "independent", "y": "independent"}}
},
{
"width": 488, "height": 314,
"title": {"text": "(b.2)", "orient": "left", "anchor": "end", "angle": 0, "align": "left", "baseline": "top", "frame": "bounds", "offset": 5, "dy": 2, "font": "Liberation Serif", "fontSize": 24, "fontWeight": "normal", "color": "black"},
"layer": [
{"data": {"values": [{"lo": 0, "hi": 1}]}, "mark": {"type": "rect", "fill": "transparent", "stroke": "black", "strokeWidth": 1.5},
 "encoding": {"x": {"field": "lo", "type": "quantitative", "scale": {"domain": [0, 1], "range": [-62, 500], "nice": false, "zero": false}, "axis": null}, "x2": {"field": "hi"},
 "y": {"field": "lo", "type": "quantitative", "scale": {"domain": [0, 1], "range": [354, -6], "nice": false, "zero": false}, "axis": null}, "y2": {"field": "hi"}}},
{"data": {"name": "b2"},
 "encoding": {
  "x": {"field": "x", "type": "quantitative", "scale": {"domain": [0, 250], "nice": false, "zero": false}, "axis": {"orient": "bottom", "values": [0,50,100,150,200,250], "title": "Precipitation (mm)"}},
  "y": {"field": "z", "type": "quantitative", "scale": {"domain": [-4.55, 4.55], "nice": false, "zero": false}, "axis": {"orient": "left", "values": [-3.0902,-2.7478,-2.3263,-2.0537,-1.6449,-1.2816,-0.6745,0,0.6745,1.2816,1.6449,2.0537,2.3263,2.7478,3.0902], "labelExpr": "(cumulativeNormal(datum.value) > 0.995 || cumulativeNormal(datum.value) < 0.005) ? format(cumulativeNormal(datum.value), '.3f') : format(cumulativeNormal(datum.value), '.2f')", "title": "Cumulative Probability", "titlePadding": 6}},
  "color": {"field": "s", "type": "nominal", "scale": {"domain": ["Observed","SN","MEXP","k-NN"], "range": ["#000000","#ff1aff","#1010ee","#c8a2b2"]}, "legend": null},
  "order": {"field": "z", "type": "quantitative"}
 },
 "layer": [
  {"mark": {"type": "line", "strokeWidth": 1}},
  {"transform": [{"filter": "datum.s == 'Observed' ? datum.z <= 3.0 : datum.z <= 3.55"}], "mark": {"type": "line", "strokeWidth": 5, "strokeCap": "round", "strokeJoin": "round"}},
  {"transform": [{"filter": "datum.z >= 2.5"}], "mark": {"type": "point", "filled": true, "opacity": 1, "size": 30},
   "encoding": {"shape": {"field": "s", "type": "nominal", "scale": {"domain": ["Observed","SN","MEXP","k-NN"], "range": ["circle","triangle-up","triangle-down","diamond"]}, "legend": null}}}
 ]}
],
"resolve": {"scale": {"x": "independent", "y": "independent"}}
}
],
"columns": 1, "spacing": 7, "align": "none",
"resolve": {"scale": {"x": "independent", "y": "independent", "color": "independent", "fill": "independent", "shape": "independent"}, "legend": {"color": "independent", "fill": "independent", "shape": "independent"}}
},
{
"width": 486, "height": 314,
"title": {"text": "(b.3)", "orient": "left", "anchor": "end", "angle": 0, "align": "left", "baseline": "top", "frame": "bounds", "offset": 3, "dy": -4, "font": "Liberation Serif", "fontSize": 24, "fontWeight": "normal", "color": "black"},
"layer": [
{"data": {"values": [{"lo": 0, "hi": 1}]}, "mark": {"type": "rect", "fill": "transparent", "stroke": "black", "strokeWidth": 1.5},
 "encoding": {"x": {"field": "lo", "type": "quantitative", "scale": {"domain": [0, 1], "range": [-62, 500], "nice": false, "zero": false}, "axis": null}, "x2": {"field": "hi"},
 "y": {"field": "lo", "type": "quantitative", "scale": {"domain": [0, 1], "range": [350, -5], "nice": false, "zero": false}, "axis": null}, "y2": {"field": "hi"}}},
{"data": {"name": "b3"},
 "encoding": {
  "x": {"field": "x", "type": "quantitative", "scale": {"domain": [0, 800], "nice": false, "zero": false}, "axis": {"orient": "bottom", "values": [0,100,200,300,400,500,600,700,800], "title": "Precipitation (mm)", "titlePadding": 2}},
  "y": {"field": "z", "type": "quantitative", "scale": {"domain": [-4.55, 4.55], "nice": false, "zero": false}, "axis": {"orient": "left", "values": [-3.0902,-2.7478,-2.3263,-2.0537,-1.6449,-1.2816,-0.6745,0,0.6745,1.2816,1.6449,2.0537,2.3263,2.7478,3.0902], "labelExpr": "(cumulativeNormal(datum.value) > 0.995 || cumulativeNormal(datum.value) < 0.005) ? format(cumulativeNormal(datum.value), '.3f') : format(cumulativeNormal(datum.value), '.2f')", "title": "Cumulative Probability", "titlePadding": 6}},
  "color": {"field": "s", "type": "nominal", "scale": {"domain": ["Observed","EXPP","PN"], "range": ["#000000","#ee1111","#cc44aa"]}, "legend": null},
  "order": {"field": "z", "type": "quantitative"}
 },
 "layer": [
  {"mark": {"type": "line", "strokeWidth": 1}},
  {"transform": [{"filter": "datum.s == 'Observed' ? datum.z <= 3.1 : datum.z <= 3.55"}], "mark": {"type": "line", "strokeWidth": 5, "strokeCap": "round", "strokeJoin": "round"}},
  {"transform": [{"filter": "datum.z >= 2.5"}], "mark": {"type": "point", "filled": true, "opacity": 1, "size": 30},
   "encoding": {"shape": {"field": "s", "type": "nominal", "scale": {"domain": ["Observed","EXPP","PN"], "range": ["circle","square","M0,-1L0.2245,-0.309L0.951,-0.309L0.363,0.118L0.588,0.809L0,0.382L-0.588,0.809L-0.363,0.118L-0.951,-0.309L-0.2245,-0.309Z"]}, "legend": null}}}
 ]}
],
"resolve": {"scale": {"x": "independent", "y": "independent"}}
}
],
"columns": 1, "spacing": 20, "align": "none",
"resolve": {"scale": {"x": "independent", "y": "independent", "color": "independent", "fill": "independent", "shape": "independent"}, "legend": {"color": "independent", "fill": "independent", "shape": "independent"}}
}
],
"spacing": 2,
"resolve": {"scale": {"x": "independent", "y": "independent", "color": "independent", "fill": "independent", "shape": "independent"}, "legend": {"color": "independent", "fill": "independent", "shape": "independent"}},
"config": {
 "view": {"stroke": "#a8a8a8", "strokeWidth": 1},
 "font": "Liberation Sans",
 "axis": {"labelFont": "Liberation Sans", "labelFontSize": 14, "labelColor": "#404040", "titleFont": "Liberation Sans", "titleFontSize": 12.5, "titleFontWeight": "bold", "titleColor": "#303030", "grid": true, "gridColor": "#d9d9d9", "gridWidth": 1, "domain": false, "ticks": false, "labelPadding": 6, "titlePadding": 4, "labelOverlap": false}
}
}
